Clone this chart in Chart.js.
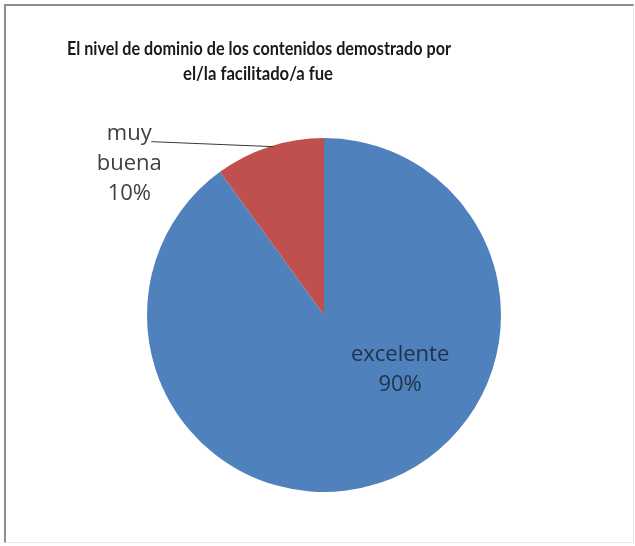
<!DOCTYPE html>
<html>
<head>
<meta charset="utf-8">
<script src="https://cdn.jsdelivr.net/npm/chart.js@4/dist/chart.umd.min.js"></script>
<style>
  html, body { margin: 0; padding: 0; background: #fff; }
  body { width: 635px; height: 546px; position: relative; overflow: hidden; }
  #frame {
    position: absolute; left: 4px; top: 4px; width: 627px; height: 536px;
    border-top: 2px solid #8e8e8e; border-left: 2px solid #8e8e8e;
    border-right: 1px solid #e4e4e4; border-bottom: 1px solid #ececec;
  }
  #chart { position: absolute; left: 0; top: 0; }
</style>
</head>
<body>
<div id="frame"></div>
<canvas id="chart" width="635" height="546"></canvas>
<script>
const TITLE_LINES = ['El nivel de dominio de los contenidos demostrado por', 'el/la facilitado/a fue'];
const CATEGORIES = ['excelente', 'muy buena'];
const SHARES = [90, 10];
const COLORS = ['#4f81bd', '#c0504d'];

// label anchors, in units of the pie radius from its centre
const LABEL_SPOTS = [
  { dx: 0.43, dy: 0.31, color: '#22324a', lines: ['excelente', '90%'] },
  { dx: -1.10, dy: -0.855, color: '#404040', lines: ['muy', 'buena', '10%'], leader: true },
];

const titlePlugin = {
  id: 'excelTitle',
  afterDraw(chart) {
    const { ctx } = chart;
    ctx.save();
    ctx.fillStyle = '#1a1a1a';
    ctx.font = 'bold 18px Lato';
    ctx.textAlign = 'center';
    ctx.textBaseline = 'alphabetic';
    ctx.fillText(TITLE_LINES[0], 259, 55, 384);
    ctx.fillText(TITLE_LINES[1], 258, 80, 150);
    ctx.restore();
  },
};

const sliceLabels = {
  id: 'sliceLabels',
  afterDatasetsDraw(chart) {
    const { ctx } = chart;
    const meta = chart.getDatasetMeta(0);
    ctx.save();
    ctx.font = '22px "Open Sans"';
    ctx.textAlign = 'center';
    ctx.textBaseline = 'middle';
    meta.data.forEach((arc, i) => {
      const spot = LABEL_SPOTS[i];
      const r = arc.outerRadius;
      const cx = arc.x + spot.dx * r;
      const cy = arc.y + spot.dy * r;
      const lineH = 30;
      const top = cy - ((spot.lines.length - 1) * lineH) / 2;
      ctx.fillStyle = spot.color;
      spot.lines.forEach((t, k) => ctx.fillText(t, cx, top + k * lineH));
      if (spot.leader) {
        const mid = (arc.startAngle + arc.endAngle) / 2;
        const ex = arc.x + Math.cos(mid) * r;
        const ey = arc.y + Math.sin(mid) * r;
        ctx.strokeStyle = '#3a3a3a';
        ctx.lineWidth = 1;
        ctx.beginPath();
        ctx.moveTo(cx + 22, top + 8);
        ctx.lineTo(ex + 4, ey);
        ctx.stroke();
      }
    });
    ctx.restore();
  },
};

new Chart(document.getElementById('chart'), {
  type: 'pie',
  data: {
    labels: CATEGORIES,
    datasets: [{
      data: SHARES,
      backgroundColor: COLORS,
      borderWidth: 0,
    }],
  },
  options: {
    responsive: false,
    animation: false,
    layout: { padding: { left: 147, right: 134, top: 138, bottom: 54 } },
    plugins: {
      legend: { display: false },
      tooltip: { enabled: false },
      title: { display: false },
    },
  },
  plugins: [titlePlugin, sliceLabels],
});
</script>
</body>
</html>
